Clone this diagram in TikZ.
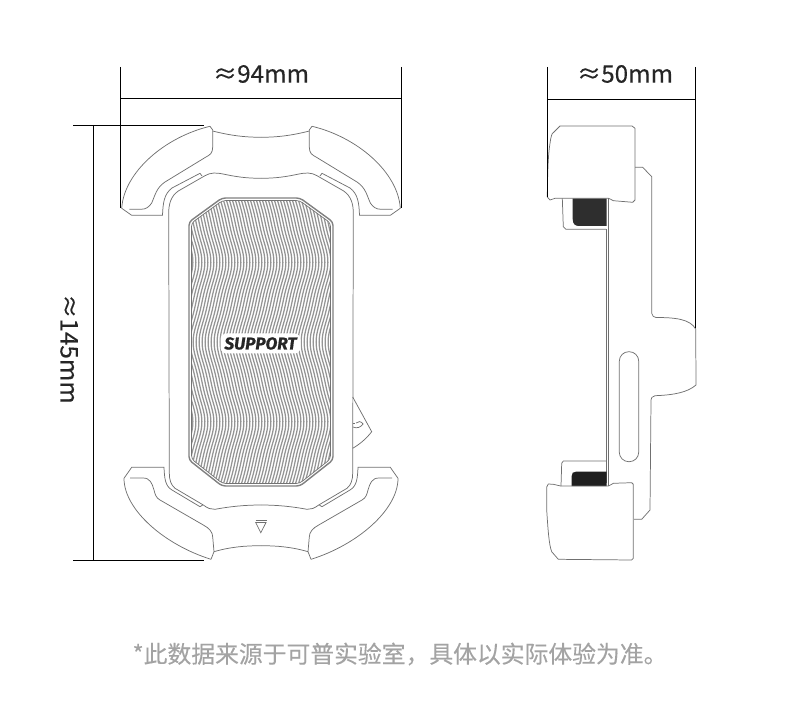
\documentclass[tikz,border=0pt]{standalone}
\usepackage{fontspec}
\setmainfont{Noto Sans CJK SC}[FakeBold=0.25]
\newfontfamily\logofont{Fira Sans}[BoldItalicFeatures={FakeBold=0.6}]
\usetikzlibrary{calc}
\tikzset{
	dimline/.style={line width=0.55pt, color=black},
	outline/.style={line width=0.42pt, color=black!56},
	dimtext/.style={font=\fontsize{13.8}{16}\selectfont, color=black!85},
	notetext/.style={font=\fontsize{13.55}{16}\selectfont, color=black!36},
	stripe/.style={line width=0.72pt, color=black!42}
}
\def\padshape{(189,222) -- (222,198) -- (300,198) -- (333,222) -- (333,460) -- (300,486) -- (222,486) -- (189,460) -- cycle}
\def\padinner{(191.5,223) -- (222.5,200.5) -- (299.5,200.5) -- (330.5,223) -- (330.5,459) -- (299.5,483.5) -- (222.5,483.5) -- (191.5,459) -- cycle}

\begin{document}
\begin{tikzpicture}[x=0.02cm, y=-0.02cm]
	%%%%% START %%%%%
	\useasboundingbox (0, 0) rectangle (790, 712);

	% front view, left and right halves
	\foreach \mirror/\off in {1/0, -1/522} {
		\begin{scope}[shift={(\off, 0)}, xscale=\mirror]
			% upper arm
			\draw[outline] (129.3, 209.3) -- (141, 209.3) .. controls (146, 209.3) and (149, 207) .. (151.7, 203) .. controls (155, 196) and (156, 188) .. (165, 182) -- (206, 157) .. controls (210, 155) and (212.7, 153) .. (212.7, 147) -- (212.7, 130) -- (210, 126.3);
			\draw[outline] (210, 126.3) .. controls (165, 137) and (124, 172) .. (121.7, 208.3) -- (131.7, 215.3) -- (162.5, 215.3) .. controls (163, 203) and (164, 194) .. (172, 188) -- (200, 173.3) -- (202, 176);
			\draw[outline] (212.7, 131) .. controls (230, 135.5) and (245, 137.3) .. (261, 137.3);
			% lower arm
			\draw[outline] (130, 478) -- (143, 478) .. controls (150, 478) and (152, 483) .. (154, 490) .. controls (155, 494) and (156, 498) .. (160, 500) -- (203.3, 525) .. controls (209, 528) and (212.7, 532) .. (212.7, 537) -- (214, 551.7) -- (211, 559.3);
			\draw[outline] (211, 559.3) .. controls (165, 545) and (124, 510) .. (124, 478.3) -- (131.7, 467.3) -- (164, 467.3) .. controls (164.5, 478) and (165, 486) .. (172, 490) -- (200, 506.7) -- (202.7, 505);
			\draw[outline] (214, 551.7) .. controls (230, 547) and (245, 545.7) .. (261, 545.7);
			% body
			\draw[outline] (261, 178.3) .. controls (245, 178.3) and (235, 176.5) .. (223, 174) .. controls (217, 172.5) and (210, 172.5) .. (205, 175.7) -- (178.3, 191) .. controls (171, 196) and (168.7, 204) .. (168.7, 213) -- (169.3, 473) .. controls (169.3, 480) and (171, 485) .. (175, 488.3) -- (203.3, 505) .. controls (208, 508.5) and (211, 509.5) .. (215, 509.3) .. controls (230, 506.5) and (245, 505) .. (261, 505);
		\end{scope}
	}

	% pad
	\begin{scope}
		\clip[rounded corners=3pt] \padinner;
		\foreach \i in {0,...,54} {
			\draw[stripe] plot[smooth, domain=196:488, samples=60] ({178 + \i*3 + 8*(sin(2.25*(\x - 222)) - sin(6.75*(\x - 222))/9)}, \x);
		}
	\end{scope}
	\draw[line width=0.8pt, color=black!50, rounded corners=2pt] \padshape;
	\draw[line width=0.4pt, color=black!55, rounded corners=2pt] \padinner;

	\node[fill=white, rounded corners=3.5pt, minimum width=80*0.02cm, minimum height=20*0.02cm, inner sep=0pt] (supportbadge) at (260.5, 343.5) {};
	\node[inner sep=0pt, color=black!85, font=\logofont\bfseries\itshape\fontsize{9.8}{11}\selectfont] (supportlabel) at (supportbadge) {SUPPORT};

	% triangle and side button
	\draw[outline] (255.5, 520.3) -- (266.5, 520.3);
	\draw[outline] (255.7, 522.5) -- (266, 522.5) -- (260.8, 532.7) -- cycle;
	\draw[outline] (352.7, 397) -- (371.7, 431.7) .. controls (366, 439) and (360, 444) .. (352.7, 448.3);
	\draw[outline] (353, 427) .. controls (357, 429) and (361, 427) .. (363, 424) .. controls (361, 421) and (358, 421) .. (356, 423);
	\draw[outline] (353, 423.5) -- (355, 423.5);

	% side view
	\draw[outline] (547.3, 197) .. controls (547.5, 175) and (548, 155) .. (550, 143.3) .. controls (551, 136) and (552, 133) .. (553.3, 132.7) -- (560, 126) -- (632, 126) -- (635, 128.3) -- (635, 200) -- (632.7, 202.3) -- (613.3, 200.7) .. controls (611, 200) and (610, 198.3) .. (608.3, 198.3) -- (561.7, 198.3) -- (555, 198.3) -- (550, 200) -- cycle;
	\draw[outline] (635, 167.3) -- (642.7, 167.3) -- (651.7, 176.7) -- (651.7, 313.3) .. controls (652.5, 316) and (653.5, 317.3) .. (656, 317.5) .. controls (675, 317.5) and (690, 319) .. (695.7, 329) -- (696, 385) .. controls (688, 392) and (675, 395) .. (655, 395.7) .. controls (652, 396.5) and (651, 398) .. (651, 400) -- (650, 510) -- (641.7, 519.3) -- (634, 519.3);
	\draw[outline] (606, 229.3) -- (606, 483.3);
	\draw[outline] (608.3, 198.3) -- (608.3, 486);

	\fill[black!82] (572.7, 198.6) -- (572.7, 219) .. controls (572.7, 224) and (575, 226) .. (579, 226) -- (606.5, 226) -- (606.5, 198.6) -- cycle;
	\draw[outline] (562.3, 198.3) -- (563.3, 226.7) -- (566, 229.3) -- (606, 229.3);

	\fill[black!88] (571.7, 486) -- (571.7, 476) .. controls (571.7, 473) and (573, 471.7) .. (576, 471.7) -- (606.5, 471.7) -- (606.5, 486) -- cycle;
	\draw[outline] (561, 486) -- (561.7, 463.3) -- (563.3, 461) -- (606, 461);

	\draw[outline] (546.7, 487) -- (548.3, 484) -- (553.3, 484.3) -- (560.7, 486) -- (608.3, 486) .. controls (610, 486) and (611, 484) .. (613.3, 483.3) -- (631.7, 482.7) -- (633.3, 484.3) -- (633.3, 558.3) -- (631.7, 560) -- (558.3, 559.3) -- (551.7, 551.7) .. controls (549, 545) and (548, 530) .. (546.7, 510) -- cycle;

	\draw[outline, rounded corners=9.5*0.567pt] (619.3, 351.7) rectangle (638.7, 461.7);

	% dimension lines
	\draw[dimline] (120.5, 67) -- (120.5, 208);
	\draw[dimline] (401, 67) -- (401, 208);
	\draw[dimline] (120.5, 98.5) -- (401, 98.5);
	\draw[dimline] (547.5, 67) -- (547.5, 197);
	\draw[dimline] (695.5, 67) -- (695.5, 328);
	\draw[dimline] (547.5, 99.3) -- (695.5, 99.3);
	\draw[dimline] (93, 125) -- (93, 560.3);
	\draw[dimline] (73, 125) -- (204, 125);
	\draw[dimline] (73, 560.3) -- (204, 560.3);

	\node[dimtext, inner sep=0pt] (widthlabel) at (261, 74) {≈94mm};
	\node[dimtext, inner sep=0pt] (depthlabel) at (625, 74) {≈50mm};
	\node[dimtext, inner sep=0pt, rotate=-90] (heightlabel) at (69, 349) {≈145mm};
	\node[notetext, inner sep=0pt] (notelabel) at (400, 654) {*此数据来源于可普实验室，具体以实际体验为准。};
	%%%%% END %%%%%
\end{tikzpicture}
\end{document}
